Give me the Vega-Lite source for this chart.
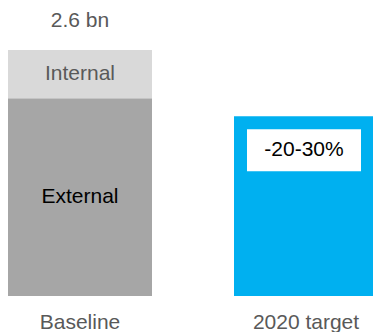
{
  "$schema": "https://vega.github.io/schema/vega-lite/v6.json",
  "width": 373,
  "height": 296,
  "padding": {"left": 0, "top": 0, "right": 0, "bottom": 36},
  "autosize": {"type": "none"},
  "background": "white",
  "config": {"view": {"stroke": null}, "font": "Liberation Sans"},
  "datasets": {
    "bars": [
      {"cat": "Baseline", "seg": "External", "value": 2.09, "order": 1},
      {"cat": "Baseline", "seg": "Internal", "value": 0.51, "order": 2},
      {"cat": "2020 target", "seg": "Target", "value": 1.9, "order": 1}
    ],
    "notes": [
      {"cat": "Baseline", "total": 2.6, "text": "2.6 bn"},
      {"cat": "2020 target", "total": 1.9, "text": "-20-30%"}
    ]
  },
  "layer": [
    {
      "data": {"name": "bars"},
      "mark": {"type": "bar", "width": 144},
      "encoding": {
        "x": {
          "field": "cat", "type": "nominal",
          "scale": {"domain": ["Baseline", "2020 target"], "range": [-33, 419], "paddingInner": 0, "paddingOuter": 0},
          "axis": {"title": null, "domain": false, "ticks": false, "labelAngle": 0, "labelFontSize": 21, "labelColor": "#595959", "labelFont": "Liberation Sans", "labelPadding": 32, "labelBaseline": "alphabetic"}
        },
        "y": {"field": "value", "type": "quantitative", "stack": "zero", "scale": {"domain": [0, 3.1285], "nice": false}, "axis": null},
        "order": {"field": "order", "type": "quantitative"},
        "color": {"field": "seg", "type": "nominal", "scale": {"domain": ["External", "Internal", "Target"], "range": ["#a6a6a6", "#d9d9d9", "#00b0f0"]}, "legend": null}
      }
    },
    {
      "data": {"name": "bars"},
      "transform": [
        {"filter": "datum.seg !== 'Target'"},
        {"stack": "value", "groupby": ["cat"], "sort": [{"field": "order"}], "as": ["v0", "v1"]},
        {"calculate": "(datum.v0 + datum.v1) / 2", "as": "mid"}
      ],
      "mark": {"type": "text", "fontSize": 21, "baseline": "middle", "align": "center"},
      "encoding": {
        "x": {"field": "cat", "type": "nominal"},
        "y": {"field": "mid", "type": "quantitative"},
        "text": {"field": "seg"},
        "color": {"condition": {"test": "datum.seg === 'Internal'", "value": "#595959"}, "value": "#000000"}
      }
    },
    {
      "data": {"name": "notes"},
      "transform": [{"filter": "datum.cat === 'Baseline'"}],
      "mark": {"type": "text", "fontSize": 21, "baseline": "alphabetic", "align": "center", "dy": -23, "color": "#595959"},
      "encoding": {
        "x": {"field": "cat", "type": "nominal"},
        "y": {"field": "total", "type": "quantitative"},
        "text": {"field": "text"}
      }
    },
    {
      "data": {"name": "notes"},
      "transform": [{"filter": "datum.cat === '2020 target'"}],
      "mark": {"type": "point", "shape": "M-1,-0.3684H1V0.3684H-1Z", "size": 12996, "filled": true, "color": "white", "opacity": 1, "yOffset": 34, "xOffset": -2},
      "encoding": {
        "x": {"field": "cat", "type": "nominal"},
        "y": {"field": "total", "type": "quantitative"}
      }
    },
    {
      "data": {"name": "notes"},
      "transform": [{"filter": "datum.cat === '2020 target'"}],
      "mark": {"type": "text", "fontSize": 21, "baseline": "middle", "align": "center", "dy": 34, "dx": -2, "color": "#000000"},
      "encoding": {
        "x": {"field": "cat", "type": "nominal"},
        "y": {"field": "total", "type": "quantitative"},
        "text": {"field": "text"}
      }
    }
  ]
}
